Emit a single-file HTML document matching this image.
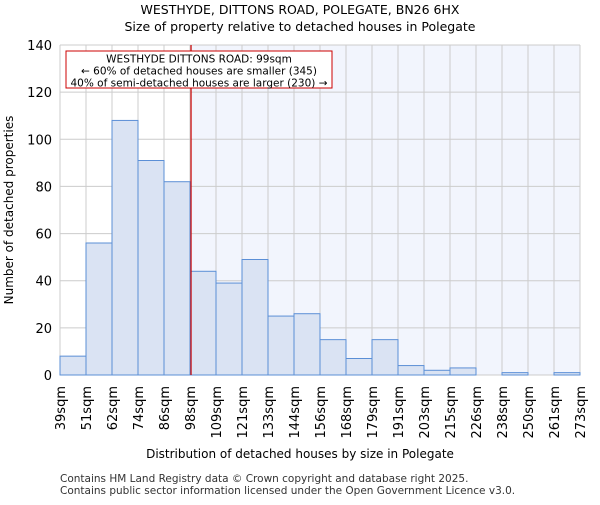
<!DOCTYPE html>
<html><head><meta charset="utf-8"><style>
body{margin:0;background:#fff;}
svg{font-family:"DejaVu Sans","Liberation Sans",sans-serif;}
</style></head><body>
<svg id="c" width="600" height="500" xmlns="http://www.w3.org/2000/svg">
<text x="300" y="14" text-anchor="middle" font-size="12.5">WESTHYDE, DITTONS ROAD, POLEGATE, BN26 6HX</text>
<text x="300" y="31" text-anchor="middle" font-size="12.5">Size of property relative to detached houses in Polegate</text>
<g id="plot"></g>
<text x="300" y="458" text-anchor="middle" font-size="12">Distribution of detached houses by size in Polegate</text>
<text transform="translate(13,210) rotate(-90)" text-anchor="middle" font-size="12">Number of detached properties</text>
<text x="60" y="482" font-size="10.5" fill="#333">Contains HM Land Registry data © Crown copyright and database right 2025.</text>
<text x="60" y="494" font-size="10.5" fill="#333">Contains public sector information licensed under the Open Government Licence v3.0.</text>
</svg>
<script>
const categories=["39sqm","51sqm","62sqm","74sqm","86sqm","98sqm","109sqm","121sqm","133sqm","144sqm","156sqm","168sqm","179sqm","191sqm","203sqm","215sqm","226sqm","238sqm","250sqm","261sqm","273sqm"];
const counts=[8,56,108,91,82,44,39,49,25,26,15,7,15,4,2,3,0,1,0,1];
const yTicks=[0,20,40,60,80,100,120,140];
const markerBin=5.04;
const NS="http://www.w3.org/2000/svg";
const L=60,R=580,T=45,B=375,yMax=140;
const bw=(R-L)/counts.length;
const x=i=>L+i*bw;
const y=v=>B-(v/yMax)*(B-T);
const g=document.getElementById('plot');
function mk(t,a){const e=document.createElementNS(NS,t);for(const k in a)e.setAttribute(k,a[k]);g.appendChild(e);return e;}
const mx=x(markerBin);
let e=mk('rect',{x:mx,y:T,width:R-mx,height:B-T,fill:'#f2f5fd'});


for(let i=0;i<=counts.length;i++){e=mk('line',{x1:x(i),x2:x(i),y1:T,y2:B,stroke:'#cccccc','stroke-width':1});

}
yTicks.forEach(t=>{e=mk('line',{x1:L,x2:R,y1:y(t),y2:y(t),stroke:'#cccccc','stroke-width':1});


e=mk('text',{x:L-8,y:y(t)+5,'text-anchor':'end','font-size':13});e.textContent=t;

});
counts.forEach((v,i)=>{e=mk('rect',{x:x(i),y:y(v),width:bw,height:B-y(v),fill:'#dae3f3',stroke:'#5b8fd6','stroke-width':1});

});
categories.forEach((c,i)=>{e=mk('text',{transform:`translate(${x(i)+5},386) rotate(-90)`,'text-anchor':'end','font-size':13});e.textContent=c;

});
e=mk('line',{x1:mx,x2:mx,y1:T,y2:B,stroke:'#cc0000','stroke-width':1.2});


e=mk('rect',{x:66,y:51,width:266,height:37,fill:'#fff',stroke:'#cc0000','stroke-width':1});


["WESTHYDE DITTONS ROAD: 99sqm","← 60% of detached houses are smaller (345)","40% of semi-detached houses are larger (230) →"].forEach((s,i)=>{
e=mk('text',{x:199,y:62.5+i*12,'text-anchor':'middle','font-size':10.5});e.textContent=s;

});
</script>
</body></html>
